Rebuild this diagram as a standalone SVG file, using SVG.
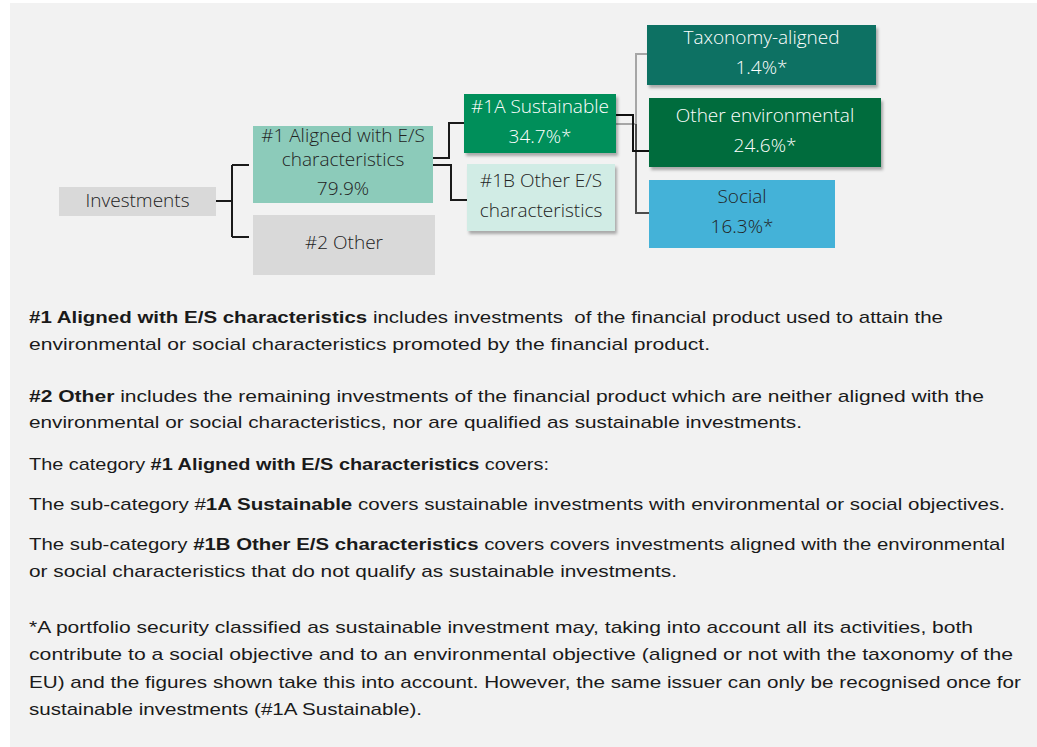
<svg xmlns="http://www.w3.org/2000/svg" width="1037" height="747" viewBox="0 0 1037 747">
<defs>
<filter id="sh" x="-5%" y="-10%" width="115%" height="135%">
<feDropShadow dx="2" dy="3" stdDeviation="1.5" flood-color="#000" flood-opacity="0.3"/>
</filter>
<style>
.n{font-family:"Open Sans","Noto Sans",sans-serif;font-weight:300;font-size:19px;text-anchor:middle;fill:#222;}
.w{fill:#fff;}
.b{font-family:"Liberation Sans",Arial,sans-serif;font-size:17px;fill:#1a1a1a;}
.bd{font-weight:bold;}
.c{fill:none;stroke-width:2;}
</style>
</defs>
<rect x="0" y="0" width="1037" height="747" fill="#ffffff"/>
<rect x="10" y="3" width="1027" height="744" fill="#f2f2f2"/>

<g id="connectors">
<path class="c" stroke="#1a1a1a" d="M216,201 H232 M232,165 V237 M232,165 H249 M232,237 H249"/>
<path class="c" stroke="#1a1a1a" d="M433,158 H449 V123 H464"/>
<path class="c" stroke="#1a1a1a" d="M433,165 H451 V200 H467"/>
<path class="c" stroke="#a6a6a6" d="M616,124 H636 V54 H647"/>
<path class="c" stroke="#4d4d4d" d="M636,124 V213 H649"/>
<path class="c" stroke="#111" d="M616,115 H633 V151 H649"/>
</g>

<g id="investments">
<rect x="59" y="187" width="157" height="29" fill="#d9d9d9"/>
<text class="n" x="137.5" y="207">Investments</text>
</g>
<g id="aligned">
<rect x="253" y="126" width="180" height="77" fill="#8ccbba"/>
<text class="n" x="343" y="142">#1 Aligned with E/S</text>
<text class="n" x="343" y="166">characteristics</text>
<text class="n" x="343" y="195">79.9%</text>
</g>
<g id="other2">
<rect x="253" y="215" width="182" height="60" fill="#d9d9d9"/>
<text class="n" x="344" y="249">#2 Other</text>
</g>
<g id="sustainable">
<rect x="464" y="94" width="152" height="59" fill="#008f5a" filter="url(#sh)"/>
<text class="n w" x="540" y="113">#1A Sustainable</text>
<text class="n w" x="540" y="143">34.7%*</text>
</g>
<g id="otheres">
<rect x="467" y="164" width="148" height="67" fill="#d1ece5" filter="url(#sh)"/>
<text class="n" x="541" y="187">#1B Other E/S</text>
<text class="n" x="541" y="217">characteristics</text>
</g>
<g id="taxonomy">
<rect x="647" y="25" width="229" height="60" fill="#117163" filter="url(#sh)"/>
<text class="n w" x="761.5" y="44">Taxonomy-aligned</text>
<text class="n w" x="761.5" y="74">1.4%*</text>
</g>
<g id="otherenv">
<rect x="649" y="98" width="232" height="69" fill="#006c3e" filter="url(#sh)"/>
<text class="n w" x="765" y="122">Other environmental</text>
<text class="n w" x="765" y="152">24.6%*</text>
</g>
<g id="social">
<rect x="649" y="180" width="186" height="68" fill="#44b2d8"/>
<text class="n" x="742" y="203">Social</text>
<text class="n" x="742" y="233">16.3%*</text>
</g>

<g id="notes">
<text class="b" x="29" y="323" textLength="914" lengthAdjust="spacingAndGlyphs" xml:space="preserve"><tspan class="bd">#1 Aligned with E/S characteristics</tspan> includes investments  of the financial product used to attain the</text>
<text class="b" x="29" y="350" textLength="681" lengthAdjust="spacingAndGlyphs">environmental or social characteristics promoted by the financial product.</text>
<text class="b" x="29" y="402" textLength="955" lengthAdjust="spacingAndGlyphs"><tspan class="bd">#2 Other</tspan> includes the remaining investments of the financial product which are neither aligned with the</text>
<text class="b" x="29" y="428" textLength="773" lengthAdjust="spacingAndGlyphs">environmental or social characteristics, nor are qualified as sustainable investments.</text>
<text class="b" x="29" y="470" textLength="520" lengthAdjust="spacingAndGlyphs">The category <tspan class="bd">#1 Aligned with E/S characteristics</tspan> covers:</text>
<text class="b" x="29" y="510" textLength="976" lengthAdjust="spacingAndGlyphs">The sub-category #<tspan class="bd">1A Sustainable</tspan> covers sustainable investments with environmental or social objectives.</text>
<text class="b" x="29" y="550" textLength="976" lengthAdjust="spacingAndGlyphs">The sub-category <tspan class="bd">#1B Other E/S characteristics</tspan> covers covers investments aligned with the environmental</text>
<text class="b" x="29" y="577" textLength="648" lengthAdjust="spacingAndGlyphs">or social characteristics that do not qualify as sustainable investments.</text>
<text class="b" x="29" y="633" textLength="944" lengthAdjust="spacingAndGlyphs">*A portfolio security classified as sustainable investment may, taking into account all its activities, both</text>
<text class="b" x="29" y="660" textLength="984" lengthAdjust="spacingAndGlyphs">contribute to a social objective and to an environmental objective (aligned or not with the taxonomy of the</text>
<text class="b" x="29" y="688" textLength="992" lengthAdjust="spacingAndGlyphs">EU) and the figures shown take this into account. However, the same issuer can only be recognised once for</text>
<text class="b" x="29" y="715" textLength="393" lengthAdjust="spacingAndGlyphs">sustainable investments (#1A Sustainable).</text>
</g>
</svg>
